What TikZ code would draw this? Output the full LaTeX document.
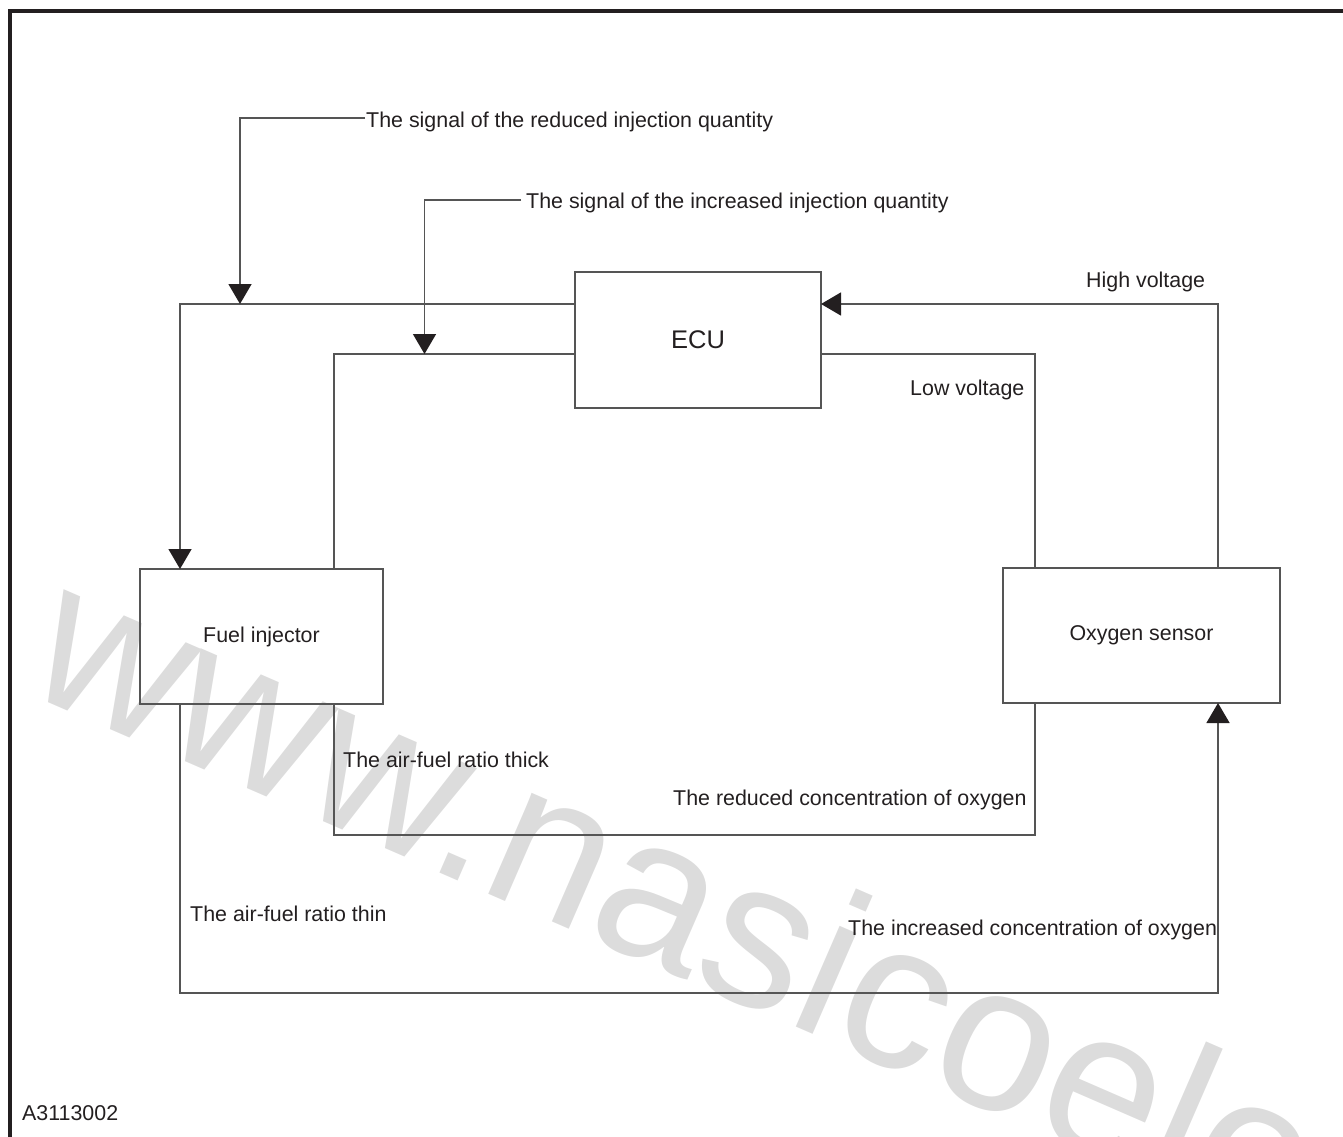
\documentclass[tikz,border=0pt]{standalone}
\usepackage{fontspec}
\setmainfont{Liberation Sans}
\usetikzlibrary{arrows.meta}
\definecolor{ink}{HTML}{231F20}
\definecolor{wire}{HTML}{555555}
\definecolor{wmark}{HTML}{DCDCDC}
\begin{document}
\begin{tikzpicture}[x=1pt,y=-1pt,
  wireline/.style={draw=wire,line width=1.5pt},
  tip/.style={-{Triangle[width=23pt,length=20pt,color=ink]}},
  blk/.style={draw=wire,line width=1.5pt,inner sep=0pt,outer sep=0pt,text=ink,font=\fontsize{21.4}{24}\selectfont},
  lbl/.style={inner sep=0pt,anchor=base west,text=ink,font=\fontsize{21.4}{24}\selectfont}]
\useasboundingbox (0,0) rectangle (1343,1137);
\clip (0,0) rectangle (1343,1137);
% watermark
\node[rotate=-23.5,anchor=base west,text=wmark,inner sep=0pt,font=\fontsize{208}{208}\selectfont] (wm) at (20,690) {www.nasicoele};
% frame
\draw[line width=4pt,ink] (10.3,1140) -- (10.3,11) -- (1346,11);
% blocks
\node[blk,minimum width=246pt,minimum height=136pt,font=\fontsize{25.5}{28}\selectfont] (ecu) at (698,340) {ECU};
\node[blk,minimum width=243pt,minimum height=135pt] (inj) at (261.5,636.5) {Fuel injector};
\node[blk,minimum width=277pt,minimum height=135pt] (oxy) at (1141.5,635.5) {Oxygen sensor};
% labels
\node[lbl] (sigr) at (366,128) {The signal of the reduced injection quantity};
\node[lbl] (sigi) at (526,208) {The signal of the increased injection quantity};
\node[lbl] (hv) at (1086,287) {High voltage};
\node[lbl] (lv) at (910,395) {Low voltage};
\node[lbl] (thick) at (343,767) {The air-fuel ratio thick};
\node[lbl] (redox) at (673,805) {The reduced concentration of oxygen};
\node[lbl] (thin) at (190,921) {The air-fuel ratio thin};
\node[lbl] (incox) at (848,935) {The increased concentration of oxygen};
\node[lbl] (code) at (22,1120) {A3113002};
% connectors
\draw[wireline,tip] ([yshift=36pt]ecu.west) -| ([xshift=-81.5pt]inj.north);
\draw[wireline] ([yshift=-14pt]ecu.west) -| ([xshift=72.5pt]inj.north);
\draw[wireline,tip] ([xshift=76.5pt]oxy.north) |- ([yshift=36pt]ecu.east);
\draw[wireline] ([xshift=-106.5pt]oxy.north) |- ([yshift=-14pt]ecu.east);
\draw[wireline,tip] ([xshift=-81.5pt]inj.south) -- ++(0,289) -| ([xshift=76.5pt]oxy.south);
\draw[wireline] ([xshift=72.5pt]inj.south) -- ++(0,131) -| ([xshift=-106.5pt]oxy.south);
% signal arrows
\coordinate (r0) at (365,118);
\coordinate (r1) at (240,304);
\coordinate (i0) at (521,200);
\coordinate (i1) at (424.5,354);
\draw[wireline,tip] (r0) -| (r1);
\draw[wireline,tip] (i0) -| (i1);
\end{tikzpicture}
\end{document}
